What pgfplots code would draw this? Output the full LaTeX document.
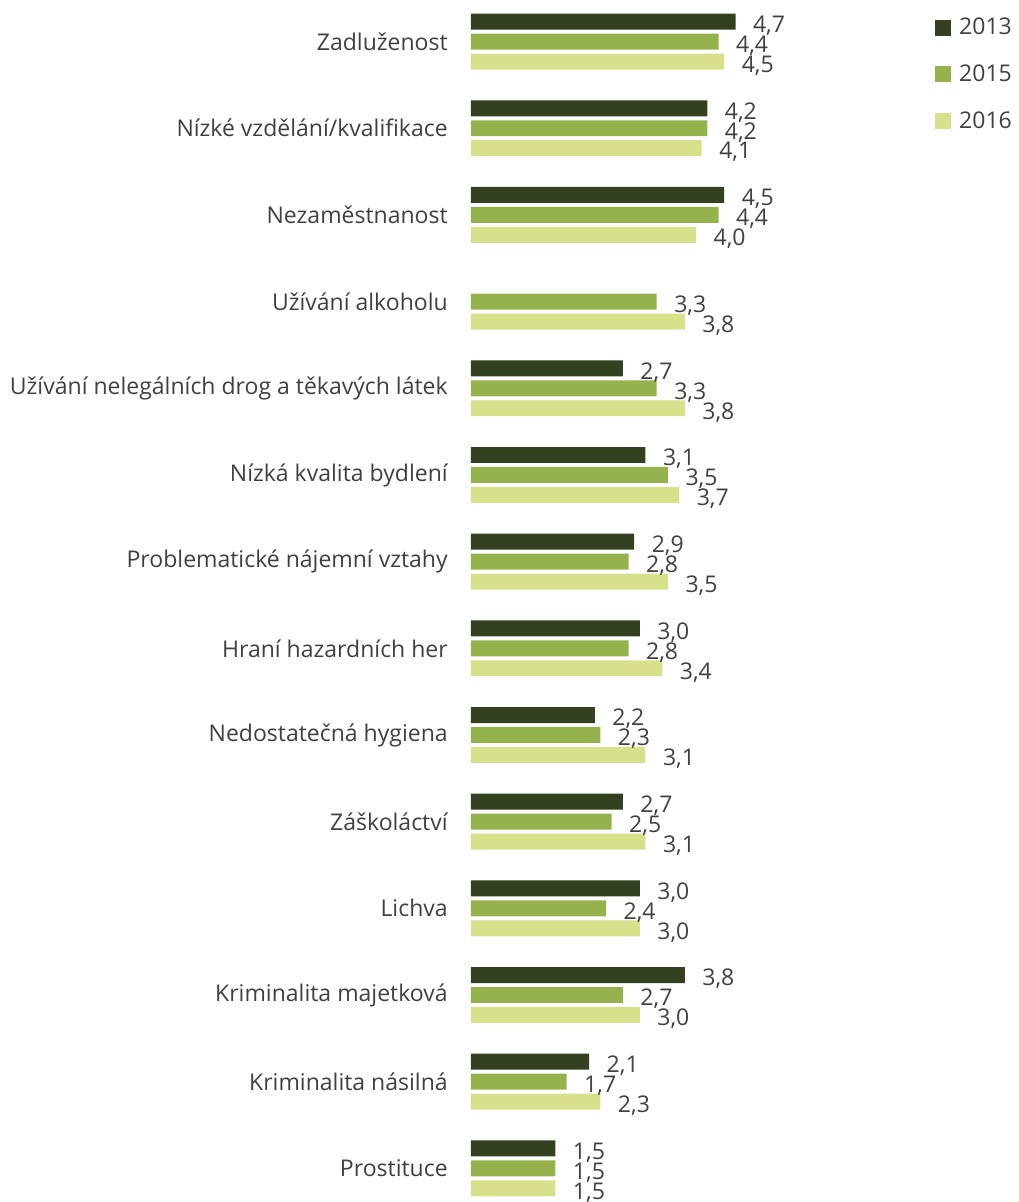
\documentclass[border={7.5pt 0pt 0pt 0pt}]{standalone}
\usepackage{pgfplots}
\pgfplotsset{compat=1.18}
\usepackage{fontspec}
\setmainfont{Open Sans}
\definecolor{c13}{HTML}{344121}
\definecolor{c15}{HTML}{96B24D}
\definecolor{c16}{HTML}{D9E08B}
\definecolor{txt}{HTML}{404040}
\newcommand{\lblfont}{\fontsize{17.3}{20}\selectfont}
\begin{document}
\begin{tikzpicture}
\begin{axis}[
  scale only axis, width=407pt, height=901.5pt,
  xmin=0, xmax=9.62, ymin=-0.357, ymax=13.48,
  xbar, bar width=12pt,
  axis line style={draw=none}, tick style={draw=none},
  xtick=\empty, ytick={0,...,13},
  yticklabels={Prostituce, Kriminalita násilná, Kriminalita majetková, Lichva, Záškoláctví, Nedostatečná hygiena, Hraní hazardních her, Problematické nájemní vztahy, Nízká kvalita bydlení, Užívání nelegálních drog a těkavých látek, Užívání alkoholu, Nezaměstnanost, Nízké vzdělání/kvalifikace, Zadluženost},
  yticklabel style={font=\lblfont, text=txt, anchor=east, inner sep=0pt, xshift=-13pt},
  point meta=x,
  nodes near coords={\pgfmathprintnumber[fixed,fixed zerofill,precision=1,use comma,assume math mode=true]{\pgfplotspointmeta}},
  every node near coord/.append style={anchor=west, inner sep=0pt, xshift=13pt, yshift=-3pt, font=\lblfont, text=txt},
  legend style={at={(axis description cs:0.857,0.985)}, anchor=north west, draw=none, fill=none, font=\lblfont, text=txt, inner sep=0pt, row sep=21pt, nodes={inner sep=0pt},
    /tikz/every odd column/.append style={column sep=6pt}},
  legend cell align=left,
  legend image code/.code={\fill[#1] (0pt,-6pt) rectangle (12pt,6pt);},
]
\addplot[fill=c13, draw=none, bar shift=15pt] coordinates {
(4.7,13) (4.2,12) (4.5,11) (2.7,9) (3.1,8) (2.9,7) (3.0,6) (2.2,5) (2.7,4) (3.0,3) (3.8,2) (2.1,1) (1.5,0)};
\addplot[fill=c15, draw=none, bar shift=0pt] coordinates {
(4.4,13) (4.2,12) (4.4,11) (3.3,10) (3.3,9) (3.5,8) (2.8,7) (2.8,6) (2.3,5) (2.5,4) (2.4,3) (2.7,2) (1.7,1) (1.5,0)};
\addplot[fill=c16, draw=none, bar shift=-15pt] coordinates {
(4.5,13) (4.1,12) (4.0,11) (3.8,10) (3.8,9) (3.7,8) (3.5,7) (3.4,6) (3.1,5) (3.1,4) (3.0,3) (3.0,2) (2.3,1) (1.5,0)};
\legend{2013,2015,2016}
\end{axis}
\end{tikzpicture}
\end{document}
